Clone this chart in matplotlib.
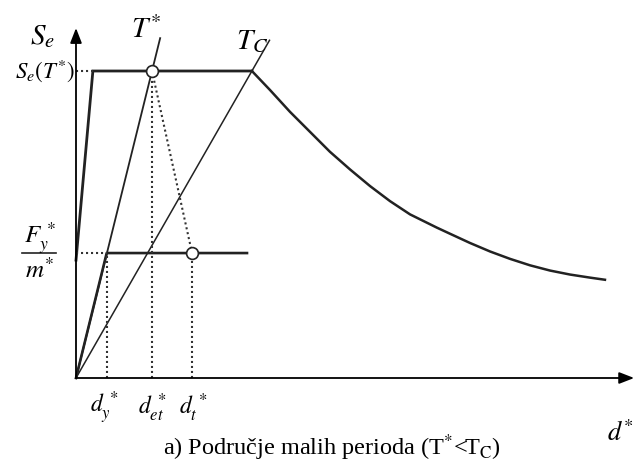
import numpy as np
import matplotlib.pyplot as plt

plt.rcParams['font.family'] = ['Liberation Serif', 'DejaVu Serif']
plt.rcParams['mathtext.fontset'] = 'stix'

# vrijednosti ocitane sa slike (jedinica: Se(T*) = 1, ista skala za d)
se_plateau = 1.0      # Se(T*)
se_0 = 0.384          # Se za T = 0
d_b = 0.055           # pocetak platoa
d_c = 0.573           # kut platoa (T_C)
fy_m = 0.407          # Fy*/m*
d_y = 0.100           # dy*
d_et = 0.2476         # det*
d_t = 0.378           # dt*
d_cap_end = 0.557     # kraj bilinearne krivulje
t_star_top = 1.107    # vrh linije T*
t_c_top = 1.10        # vrh linije T_C
x_axis_end = 1.818
y_axis_end = 1.14

# opadajuci dio spektra (T > T_C)
curve_d = [0.573, 0.632, 0.697, 0.762, 0.827, 0.893, 0.958, 1.023, 1.088,
           1.175, 1.218, 1.283, 1.349, 1.414, 1.479, 1.544, 1.609, 1.674, 1.723]
curve_se = [1.000, 0.938, 0.867, 0.802, 0.737, 0.679, 0.625, 0.576, 0.533,
            0.490, 0.470, 0.440, 0.412, 0.388, 0.367, 0.350, 0.337, 0.327, 0.320]

S = 307.0  # px po jedinici


def px(x, y):
    return (x - 76) / S, (378 - y) / S


fig = plt.figure(figsize=(6.34, 4.66), dpi=100)
ax = fig.add_axes([0, 0, 1, 1])
ax.set_xlim(-76 / S, 558 / S)
ax.set_ylim(-88 / S, 378 / S)
ax.axis('off')

ink = '#222222'
dot = dict(color='#333333', lw=1.5, ls=(0, (1, 1.4)))

# osi
ax.annotate('', xy=(0, y_axis_end), xytext=(0, 0),
            arrowprops=dict(arrowstyle='-|>,head_length=0.9,head_width=0.35',
                            lw=1.3, color='black', shrinkA=0, shrinkB=0))
ax.annotate('', xy=(x_axis_end, 0), xytext=(0, 0),
            arrowprops=dict(arrowstyle='-|>,head_length=0.9,head_width=0.35',
                            lw=1.3, color='black', shrinkA=0, shrinkB=0))

# elasticni spektar
ax.plot([0, d_b, d_c], [se_0, se_plateau, se_plateau], color=ink, lw=2.0,
        solid_joinstyle='miter')
ax.plot(curve_d, curve_se, color=ink, lw=1.8, solid_joinstyle='round')

# linije T* i T_C
k_star = d_et / se_plateau
k_c = d_c / se_plateau
ax.plot([0, k_star * t_star_top], [0, t_star_top], color=ink, lw=1.3)
ax.plot([0, k_c * t_c_top], [0, t_c_top], color=ink, lw=1.1)

# bilinearna krivulja kapaciteta
ax.plot([0, d_y, d_cap_end], [0, fy_m, fy_m], color=ink, lw=1.9)

# tockaste linije
ax.plot([0, d_b], [se_plateau, se_plateau], **dot)
ax.plot([0, d_y], [fy_m, fy_m], **dot)
ax.plot([d_y, d_y], [0, fy_m], **dot)
ax.plot([d_et, d_et], [0, se_plateau], **dot)
ax.plot([d_t, d_t], [0, fy_m], **dot)
ax.plot([d_et, d_t], [se_plateau, fy_m], **dot)

# kruzici
ax.plot([d_et, d_t], [se_plateau, fy_m], 'o', ms=8.5, mfc='white',
        mec=ink, mew=1.2, zorder=5)

# tekstovi
def label(x, y, s, size, **kw):
    ax.text(*px(x, y), s, fontsize=size, ha='center', va='center', **kw)


label(42, 37, r'$S_e$', 21)
label(146, 30, r'$T^{*}$', 21)
label(252, 42, r'$T_C$', 21)
label(45, 71, r'$S_e(T^{*})$', 16.5)
label(40, 238, r'$F_y^{\,*}$', 18)
ax.plot(*zip(px(22, 253), px(56, 253)), color=ink, lw=1.2, clip_on=False)
label(40, 270, r'$m^{*}$', 18)
label(104, 408, r'$d_y^{\,*}$', 17)
label(152, 408, r'$d_{et}^{\,*}$', 17)
label(193, 408, r'$d_t^{\,*}$', 17)
ax.text(*px(607, 433), r'$d^{*}$', fontsize=19, ha='left', va='center')
label(332, 448, r'a) Područje malih perioda (T$^{*}$<T$_{\mathrm{C}}$)', 17.5)

fig.savefig('out.png', dpi=100)
